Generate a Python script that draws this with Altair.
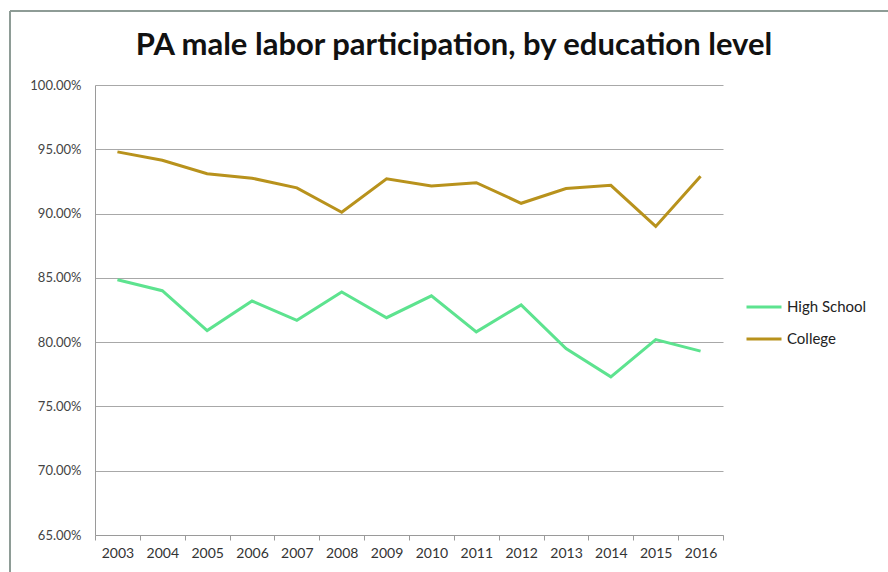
import altair as alt
import pandas as pd

years = ["2003", "2004", "2005", "2006", "2007", "2008", "2009",
         "2010", "2011", "2012", "2013", "2014", "2015", "2016"]
high_school = [84.85, 84.0, 80.9, 83.2, 81.7, 83.9, 81.9,
               83.6, 80.8, 82.9, 79.5, 77.3, 80.2, 79.3]
college = [94.8, 94.15, 93.1, 92.75, 92.0, 90.1, 92.7,
           92.15, 92.4, 90.8, 91.95, 92.2, 89.0, 92.9]
series = ["High School", "College"]
colors = ["#5de38f", "#b8921c"]
y_ticks = [0.65, 0.70, 0.75, 0.80, 0.85, 0.90, 0.95, 1.00]

rows = []
for name, vals in zip(series, [high_school, college]):
    for yr, v in zip(years, vals):
        rows.append({"year": yr, "series": name, "value": v / 100.0})
df = pd.DataFrame(rows)

font = "Lato"

lines = alt.Chart(df).mark_line(strokeWidth=3, clip=False).encode(
    x=alt.X("year:O", sort=years,
            scale=alt.Scale(type="band", paddingInner=0, paddingOuter=0),
            axis=alt.Axis(title=None, labelAngle=0, tickBand="extent",
                          grid=False, domainColor="#9a9a9a", tickColor="#9a9a9a",
                          tickSize=5, labelFont=font, labelFontSize=14,
                          labelColor="#333333", labelPadding=6)),
    y=alt.Y("value:Q",
            scale=alt.Scale(domain=[0.65, 1.0], nice=False, zero=False),
            axis=alt.Axis(title=None, values=y_ticks, format=".2%",
                          grid=True, gridColor="#a8a8a8", gridWidth=1,
                          ticks=False, domainColor="#9a9a9a",
                          labelFont=font, labelFontSize=13,
                          labelColor="#444444", labelPadding=14)),
    color=alt.Color("series:N", sort=series,
                    scale=alt.Scale(domain=series, range=colors),
                    legend=alt.Legend(title=None, orient="none",
                                      legendX=650, legendY=203,
                                      symbolType="stroke", symbolSize=1225,
                                      symbolStrokeWidth=3, labelFont=font,
                                      labelFontSize=15, labelColor="#222222",
                                      labelOffset=4, rowPadding=5)),
)

frame = alt.Chart(alt.Data(values=[{}])).mark_rule(color="#8e9c96", strokeWidth=2, clip=False)
frame_left = frame.encode(x=alt.value(-85), y=alt.value(-74), y2=alt.value(487))
frame_top = frame.encode(x=alt.value(-85), x2=alt.value(793), y=alt.value(-74))

chart = alt.layer(frame_left, frame_top, lines).properties(
    width=628,
    height=450,
    padding={"left": 95, "top": 85, "right": 165, "bottom": 37},
    autosize=alt.AutoSizeParams(type="none"),
    background="white",
    title=alt.TitleParams("PA male labor participation, by education level",
                          font=font, fontSize=31, fontWeight="bold",
                          color="#111111", anchor="middle", dx=45, dy=74,
                          offset=22),
).configure_view(stroke=None)

chart.save("out.html", embed_options={"renderer": "svg", "actions": False})
